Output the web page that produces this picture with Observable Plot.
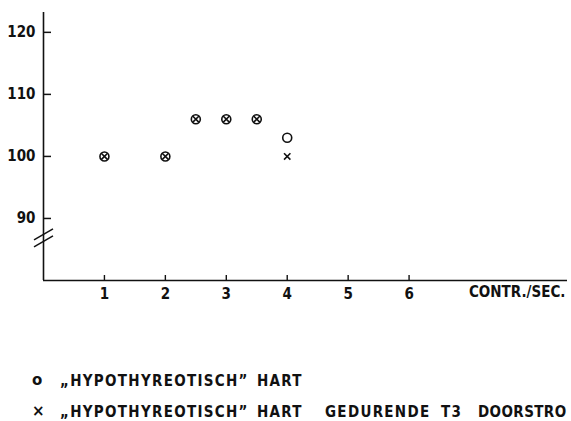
<!DOCTYPE html>
<html>
<head>
<meta charset="utf-8">
<script src="https://cdn.jsdelivr.net/npm/d3@7"></script>
<script src="https://cdn.jsdelivr.net/npm/@observablehq/plot@0.6"></script>
<style>
  html, body { margin: 0; padding: 0; background: #fff; width: 571px; height: 421px; overflow: hidden; }
  #chart { position: absolute; left: 0; top: 0; }
  .leg { position: absolute; white-space: nowrap; font-family: "DejaVu Sans Condensed", "DejaVu Sans", sans-serif; font-weight: bold; font-size: 15px; letter-spacing: 1.3px; color: #111; line-height: 18px; }
  .leg.tight { letter-spacing: 0.4px; }
  .sym { position: absolute; font-family: "DejaVu Sans", sans-serif; font-weight: bold; font-size: 15px; color: #111; line-height: 18px; }
</style>
</head>
<body>
<div id="chart"></div>
<div id="legend"></div>
<script>
const xValues = [1, 2, 2.5, 3, 3.5, 4];
const hypoY = [100, 100, 106, 106, 106, 103];
const t3Y = [100, 100, 106, 106, 106, 100];
const xTicks = [1, 2, 3, 4, 5, 6];
const yTicks = [90, 100, 110, 120];
const xLabel = "CONTR./SEC.";
const breakY = 86.8;
const legendSymbols = ["o", "×"];
const legendWords = [
  ["„HYPOTHYREOTISCH”", "HART"],
  ["„HYPOTHYREOTISCH”", "HART", "GEDURENDE", "T3", "DOORSTRO"]
];

// legend layout (word start positions, line tops)
const wordLeft = [60, 257, 325, 441, 478];
const lineTop = [372, 403];
const legend = document.getElementById("legend");
legendWords.forEach((words, li) => {
  const s = document.createElement("div");
  s.className = "sym";
  s.style.left = "32px";
  s.style.top = (lineTop[li] - 1) + "px";
  s.textContent = legendSymbols[li];
  legend.appendChild(s);
  words.forEach((w, wi) => {
    const d = document.createElement("div");
    d.className = wi === 4 ? "leg tight" : "leg";
    d.style.left = wordLeft[wi] + "px";
    d.style.top = lineTop[li] + "px";
    d.textContent = w;
    legend.appendChild(d);
  });
});

const hypo = xValues.map((x, i) => ({x, y: hypoY[i]}));
const t3 = xValues.map((x, i) => ({x, y: t3Y[i]}));

const breakMark = (index, scales) => {
  const g = document.createElementNS("http://www.w3.org/2000/svg", "g");
  const x0 = scales.x(0), y0 = scales.y(breakY);
  for (const off of [-3.5, 3.5]) {
    const l = document.createElementNS("http://www.w3.org/2000/svg", "line");
    l.setAttribute("x1", x0 - 9);
    l.setAttribute("y1", y0 + off + 5.5);
    l.setAttribute("x2", x0 + 10);
    l.setAttribute("y2", y0 + off - 5.5);
    l.setAttribute("stroke", "#111");
    l.setAttribute("stroke-width", 1.5);
    g.appendChild(l);
  }
  return g;
};

const tickFont = "'DejaVu Sans Condensed', 'DejaVu Sans', sans-serif";

const chart = Plot.plot({
  width: 571,
  height: 320,
  marginLeft: 43,
  marginRight: 4,
  marginTop: 12,
  marginBottom: 40,
  style: {fontFamily: tickFont, fontSize: "15px", fontWeight: "bold", color: "#111", background: "#fff"},
  x: {domain: [0, 8.6]},
  y: {domain: [80, 123.2]},
  marks: [
    Plot.ruleX([0], {stroke: "#111", strokeWidth: 1.6}),
    Plot.ruleY([80], {stroke: "#111", strokeWidth: 1.5}),
    Plot.axisY({ticks: yTicks, tickSize: -8, tickFormat: () => "", strokeWidth: 1.5, label: null}),
    Plot.axisY({ticks: yTicks, tickSize: 0, tickPadding: 8, label: null, fontSize: 15}),
    Plot.axisX({ticks: xTicks, tickSize: -5, tickFormat: () => "", strokeWidth: 1.4, label: null}),
    Plot.axisX({ticks: xTicks, tickSize: 0, tickPadding: 8, label: null, fontSize: 15}),
    Plot.text([xLabel], {frameAnchor: "bottom-right", dy: 16, dx: -2, textAnchor: "end", fontSize: 15, fontWeight: "bold", fontFamily: tickFont, letterSpacing: "1.6px"}),
    breakMark,
    Plot.dot(hypo, {x: "x", y: "y", r: 4.5, stroke: "#111", strokeWidth: 1.6, fill: "none"}),
    Plot.dot(t3, {x: "x", y: "y", symbol: "times", r: 3, stroke: "#111", strokeWidth: 1.6})
  ]
});
document.getElementById("chart").appendChild(chart);
</script>
</body>
</html>
